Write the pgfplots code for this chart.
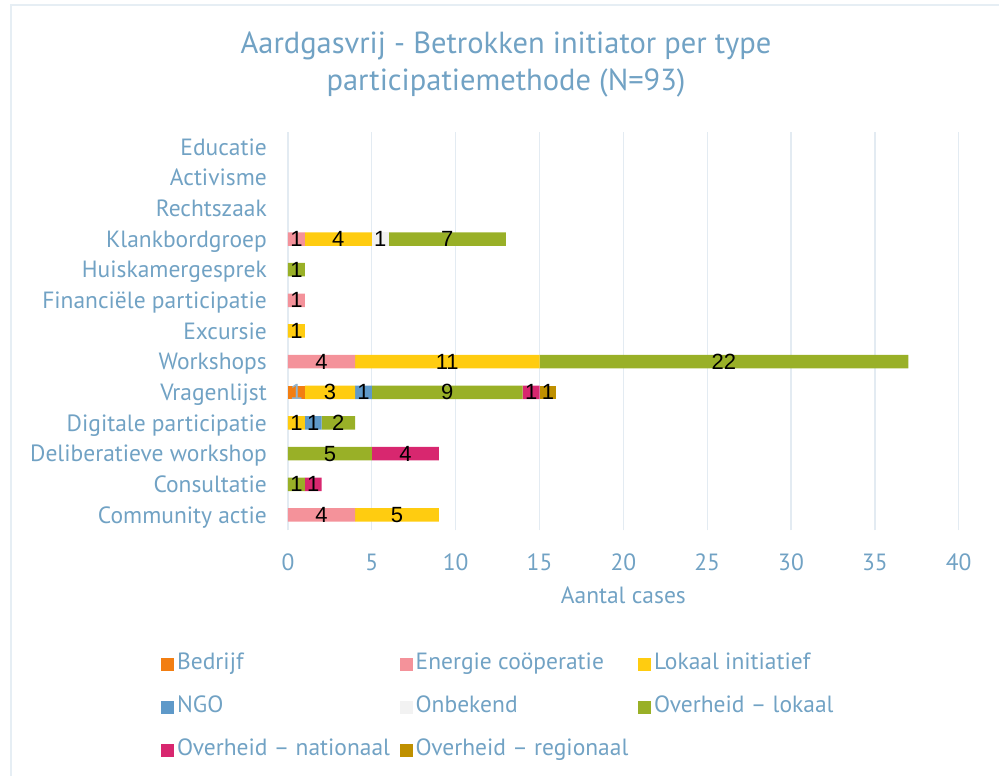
\documentclass[border=0pt]{standalone}
\usepackage{pgfplots}
\pgfplotsset{compat=1.18}
\usepackage{pgfplotstable}
\usepackage{fontspec}
\setmainfont{PT Sans}
\newfontfamily\labfont{Liberation Sans}
\definecolor{txt}{HTML}{71A2C4}
\definecolor{frame}{HTML}{E6EEF4}
\definecolor{gridc}{HTML}{E3EBF2}
\definecolor{cB}{HTML}{F27E12}
\definecolor{cEC}{HTML}{F4929A}
\definecolor{cLI}{HTML}{FFCC10}
\definecolor{cNGO}{HTML}{5E99C9}
\definecolor{cONB}{HTML}{F2F2F2}
\definecolor{cOL}{HTML}{99B027}
\definecolor{cON}{HTML}{D8276F}
\definecolor{cOR}{HTML}{BF9000}
\definecolor{lblblue}{HTML}{8DB3D0}

\pgfplotstableread{
y B EC LI NGO ONB OL ON OR
0 0 4 5 0 0 0 0 0
1 0 0 0 0 0 1 1 0
2 0 0 0 0 0 5 4 0
3 0 0 1 1 0 2 0 0
4 1 0 3 1 0 9 1 1
5 0 4 11 0 0 22 0 0
6 0 0 1 0 0 0 0 0
7 0 1 0 0 0 0 0 0
8 0 0 0 0 0 1 0 0
9 0 1 4 0 1 7 0 0
10 0 0 0 0 0 0 0 0
11 0 0 0 0 0 0 0 0
12 0 0 0 0 0 0 0 0
}\datatable

\pgfplotstableread{
x y l
2 0 4
6.5 0 5
0.5 1 1
1.5 1 1
2.5 2 5
7 2 4
0.5 3 1
1.5 3 1
3 3 2
2.5 4 3
4.5 4 1
9.5 4 9
14.5 4 1
15.5 4 1
2 5 4
9.5 5 11
26 5 22
0.5 6 1
0.5 7 1
0.5 8 1
0.5 9 1
3 9 4
5.5 9 1
9.5 9 7
}\labtable

\pgfplotstableread{
x y l
0.5 4 1
}\labtableblue

\pgfplotsset{
  common/.style={
    scale only axis,
    width=670.7pt, height=398.6pt,
    xmin=0, xmax=40, ymin=-0.5, ymax=12.5,
    at={(288pt,245.7pt)}, anchor=south west,
  }
}

\begin{document}
\begin{tikzpicture}[x=1pt,y=1pt]
\useasboundingbox (0,0) rectangle (999,776);
\draw[color=frame, line width=1.5pt] (11,-5) -- (11,771) -- (1005,771);
\node[align=center, text=txt, font=\fontsize{30.5}{37}\selectfont] at (506,711)
  {Aardgasvrij - Betrokken initiator per type\\participatiemethode (N=93)};

\begin{axis}[common,
  xbar stacked, bar width=13.5pt,
  ytick={0,...,12},
  yticklabels={Community actie, Consultatie, Deliberatieve workshop, Digitale participatie, Vragenlijst, Workshops, Excursie, Financiële participatie, Huiskamergesprek, Klankbordgroep, Rechtszaak, Activisme, Educatie},
  xtick={0,5,...,40},
  xmajorgrids, grid style={color=gridc, line width=1.3pt},
  axis line style={draw=none},
  major tick length=0pt,
  /pgf/number format/assume math mode=true,
  tick label style={font=\fontsize{23.5}{26}\selectfont, text=txt},
  yticklabel style={anchor=east, inner sep=0pt, xshift=-21pt, text height=16.5pt, text depth=0pt},
  xticklabel style={anchor=north, inner sep=0pt, yshift=-23.5pt},
  xlabel={Aantal cases},
  xlabel style={at={(axis description cs:0.5,0)}, anchor=north, inner sep=0pt, yshift=-56pt, font=\fontsize{23.5}{26}\selectfont, text=txt},
  legend columns=3,
  legend cell align=left,
  legend image code/.code={\fill[#1] (0pt,-6.5pt) rectangle (13pt,6.5pt);},
  legend style={at={(axis description cs:-0.1894,-0.302)}, anchor=north west,
    draw=none, fill=none, inner sep=0pt, row sep=16pt, column sep=0pt,
    font=\fontsize{23.5}{26}\selectfont, text=txt,
    nodes={inner sep=3pt, text height=16pt, text depth=5pt}},
]
\addplot[fill=cB, draw=none] table[x=B, y=y] {\datatable};
\addlegendentry{\makebox[219.5pt][l]{Bedrijf}}
\addplot[fill=cEC, draw=none] table[x=EC, y=y] {\datatable};
\addlegendentry{\makebox[219.5pt][l]{Energie coöperatie}}
\addplot[fill=cLI, draw=none] table[x=LI, y=y] {\datatable};
\addlegendentry{\makebox[219.5pt][l]{Lokaal initiatief}}
\addplot[fill=cNGO, draw=none] table[x=NGO, y=y] {\datatable};
\addlegendentry{\makebox[219.5pt][l]{NGO}}
\addplot[fill=cONB, draw=none] table[x=ONB, y=y] {\datatable};
\addlegendentry{\makebox[219.5pt][l]{Onbekend}}
\addplot[fill=cOL, draw=none] table[x=OL, y=y] {\datatable};
\addlegendentry{\makebox[219.5pt][l]{Overheid -- lokaal}}
\addplot[fill=cON, draw=none] table[x=ON, y=y] {\datatable};
\addlegendentry{\makebox[219.5pt][l]{Overheid -- nationaal}}
\addplot[fill=cOR, draw=none] table[x=OR, y=y] {\datatable};
\addlegendentry{\makebox[219.5pt][l]{Overheid -- regionaal}}
\end{axis}

\begin{axis}[common, hide axis]
\addplot[draw=none, mark=none, nodes near coords, point meta=explicit symbolic,
  nodes near coords align=center,
  every node near coord/.append style={anchor=center, inner sep=0pt, font=\labfont\fontsize{22}{24}\selectfont, text=black}]
  table[x=x, y=y, meta=l] {\labtable};
\addplot[draw=none, mark=none, nodes near coords, point meta=explicit symbolic,
  nodes near coords align=center,
  every node near coord/.append style={anchor=center, inner sep=0pt, font=\labfont\fontsize{22}{24}\selectfont, text=lblblue}]
  table[x=x, y=y, meta=l] {\labtableblue};
\end{axis}
\end{tikzpicture}
\end{document}
